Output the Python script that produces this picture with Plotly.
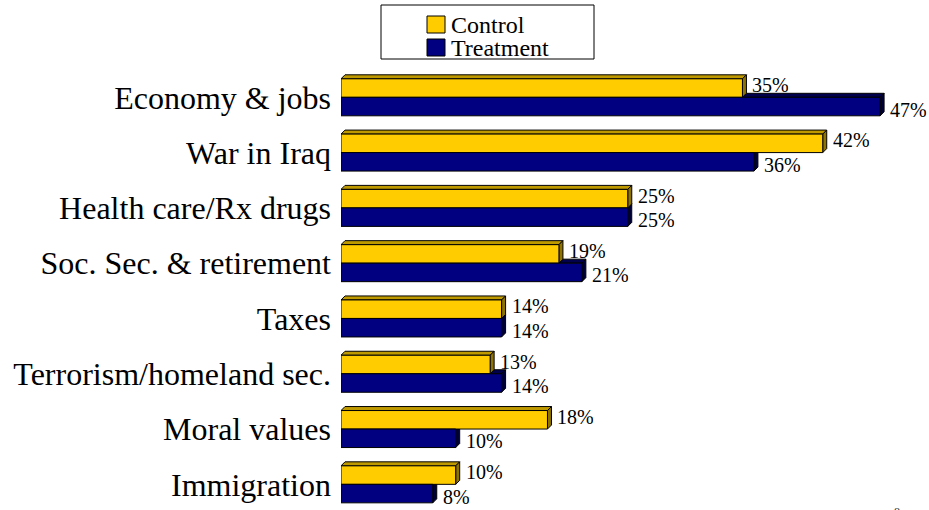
import plotly.graph_objects as go

# ---------------- data ----------------
categories = ["Economy & jobs", "War in Iraq", "Health care/Rx drugs",
              "Soc. Sec. & retirement", "Taxes", "Terrorism/homeland sec.",
              "Moral values", "Immigration"]
control = [35, 42, 25, 19, 14, 13, 18, 10]
treatment = [47, 36, 25, 21, 14, 14, 10, 8]
series_names = ["Control", "Treatment"]
page_number = "8"

# ---------------- styling / geometry ----------------
FONT = "Liberation Serif"
W, H = 929, 510
ML, MR, MT, MB = 341, 0, 60, 0
PX_PER_PCT = 11.47
PX_PER_CAT = 55.29
pw, ph = W - ML - MR, H - MT - MB
x_max = pw / PX_PER_PCT
y_top = -(97.3 - MT) / PX_PER_CAT
y_bot = y_top + ph / PX_PER_CAT

bar_w = 18.5 / PX_PER_CAT
dx = 4 / PX_PER_PCT
dy = 4 / PX_PER_CAT

colors = {
    "Control": ("#FFCC00", "#BF9900", "#8F7300"),
    "Treatment": ("#000080", "#00004C", "#000038"),
}
offsets = {"Control": -bar_w, "Treatment": 0.0}
label_shift = {"Control": 3, "Treatment": -3}
values = {"Control": control, "Treatment": treatment}

ypos = list(range(len(categories)))

fig = go.Figure()
for name in series_names:
    front, _, _ = colors[name]
    fig.add_trace(go.Bar(
        orientation="h", x=values[name], y=ypos, name=name,
        width=bar_w, offset=offsets[name],
        marker=dict(color=front, line=dict(color="black", width=1)),
        showlegend=False, hoverinfo="x+name",
    ))

# 3D faces (top + right side), treatment first so control draws over it
shapes = []
for name in ["Treatment", "Control"]:
    _, topc, sidec = colors[name]
    for i, v in enumerate(values[name]):
        y0 = i + offsets[name]
        y1 = y0 + bar_w
        shapes.append(dict(
            type="path", xref="x", yref="y", layer="below",
            path=f"M 0,{y0} L {v},{y0} L {v+dx},{y0-dy} L {dx},{y0-dy} Z",
            fillcolor=topc, line=dict(color="black", width=1)))
        shapes.append(dict(
            type="path", xref="x", yref="y", layer="below",
            path=f"M {v},{y0} L {v+dx},{y0-dy} L {v+dx},{y1-dy} L {v},{y1} Z",
            fillcolor=sidec, line=dict(color="black", width=1)))

# value labels
annotations = []
for name in series_names:
    for i, v in enumerate(values[name]):
        yc = i + offsets[name] + bar_w / 2
        annotations.append(dict(
            x=v + dx, y=yc, xref="x", yref="y", text=f"{v}%",
            showarrow=False, xanchor="left", yanchor="middle", xshift=4,
            yshift=label_shift[name], height=20,
            font=dict(family=FONT, size=20, color="black")))


def px_x(p):
    return (p - ML) / pw


def px_y(p):
    return (H - MB - p) / ph


# manual legend
shapes.append(dict(type="rect", xref="paper", yref="paper",
                   x0=px_x(381), x1=px_x(594), y0=px_y(59), y1=px_y(5),
                   line=dict(color="black", width=1), fillcolor="white"))
legend_rows = [(16, 33), (39, 56)]
for name, (t, b) in zip(series_names, legend_rows):
    shapes.append(dict(type="rect", xref="paper", yref="paper",
                       x0=px_x(427), x1=px_x(445), y0=px_y(b), y1=px_y(t),
                       line=dict(color="black", width=1), fillcolor=colors[name][0]))
    annotations.append(dict(x=px_x(449), y=px_y((t + b) / 2), xref="paper", yref="paper",
                            text=name, showarrow=False, xanchor="left", yanchor="middle",
                            height=22, valign="middle",
                            font=dict(family=FONT, size=24, color="black")))

annotations.append(dict(x=px_x(897), y=px_y(503), xref="paper", yref="paper",
                        text=page_number, showarrow=False, xanchor="center", yanchor="top",
                        font=dict(family=FONT, size=12, color="#333")))

fig.update_layout(
    width=W, height=H, margin=dict(l=ML, r=MR, t=MT, b=MB, pad=0),
    paper_bgcolor="white", plot_bgcolor="white",
    barmode="overlay", shapes=shapes, annotations=annotations,
    font=dict(family=FONT, color="black"),
    xaxis=dict(range=[0, x_max], visible=False, fixedrange=True),
    yaxis=dict(range=[y_bot, y_top], tickvals=ypos, ticktext=categories,
               tickfont=dict(family=FONT, size=32, color="black"),
               showgrid=False, zeroline=False, showline=False, ticks="",
               ticklabelstandoff=9, automargin=False, fixedrange=True),
    showlegend=False,
)

fig.write_html("out.html")
